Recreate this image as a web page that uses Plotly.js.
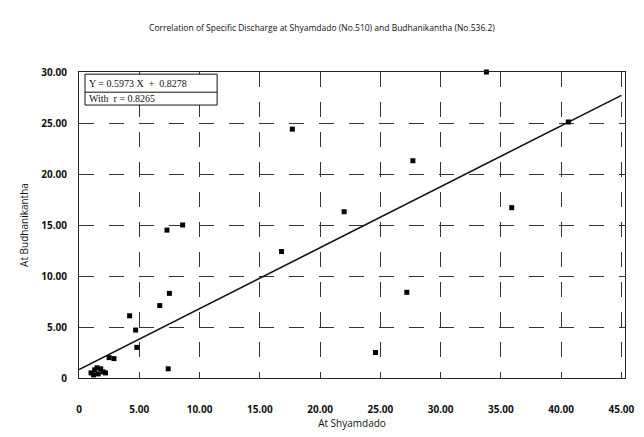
<!DOCTYPE html>
<html>
<head>
<meta charset="utf-8">
<script src="https://cdn.plot.ly/plotly-3.0.1.min.js"></script>
<style>html,body{margin:0;padding:0;background:#fff;}#chart{width:644px;height:437px;}</style>
</head>
<body>
<div id="chart"></div>
<script>
// Observed specific discharge pairs
const shyamdado = [33.8, 40.6, 17.7, 27.7, 22.0, 35.9, 16.8, 27.2, 24.6,
                   7.3, 8.6, 7.5, 6.7, 4.2, 4.7, 4.8, 2.5, 2.9, 7.4,
                   1.0, 1.3, 1.6, 1.8, 2.0, 2.2, 1.2, 1.5];
const budhanikantha = [30.0, 25.1, 24.4, 21.3, 16.3, 16.7, 12.4, 8.4, 2.5,
                       14.5, 15.0, 8.3, 7.1, 6.1, 4.7, 3.0, 2.0, 1.9, 0.9,
                       0.5, 0.8, 0.4, 0.9, 0.6, 0.5, 0.3, 1.0];
// Regression
const slope = 0.5973;
const intercept = 0.8278;
const lineX = [0, 45];
const lineY = lineX.map(v => slope * v + intercept);

const xTickVals = [0, 5, 10, 15, 20, 25, 30, 35, 40, 45];
const xTickText = ["0", "5.00", "10.00", "15.00", "20.00", "25.00", "30.00", "35.00", "40.00", "45.00"];
const yTickVals = [0, 5, 10, 15, 20, 25, 30];
const yTickText = ["0", "5.00", "10.00", "15.00", "20.00", "25.00", "30.00"];

const font = "Open Sans, Lato, sans-serif";

const traces = [
  {x: lineX, y: lineY, mode: "lines", line: {color: "#111", width: 1.6}, hoverinfo: "skip", cliponaxis: false},
  {x: shyamdado, y: budhanikantha, mode: "markers", cliponaxis: false,
   marker: {symbol: "square", size: 5, color: "#000"}}
];

const layout = {
  width: 644, height: 437,
  margin: {l: 79, r: 19, t: 72, b: 59},
  paper_bgcolor: "#fff", plot_bgcolor: "#fff",
  showlegend: false,
  font: {family: font, color: "#111", size: 10},
  title: {text: "Correlation of Specific Discharge at Shyamdado (No.510) and Budhanikantha (No.536.2)",
          font: {family: font, size: 8.5, color: "#111"}, x: 0.5, xanchor: "center", y: 0.935, yanchor: "middle"},
  xaxis: {
    range: [0, 45.3], tickvals: xTickVals, ticktext: xTickText,
    showgrid: true, gridcolor: "#333", gridwidth: 1, griddash: "longdash",
    showline: true, linecolor: "#222", linewidth: 1, mirror: true,
    zeroline: false, ticks: "", ticklabelstandoff: 22,
    tickfont: {family: font, size: 10, color: "#111", weight: "bold"},
    title: {text: "At Shyamdado", font: {family: font, size: 10, color: "#111"}, standoff: 4}
  },
  yaxis: {
    range: [0, 30], tickvals: yTickVals, ticktext: yTickText,
    showgrid: true, gridcolor: "#333", gridwidth: 1, griddash: "longdash",
    showline: true, linecolor: "#222", linewidth: 1, mirror: true,
    zeroline: false, ticks: "", ticklabelstandoff: 9,
    tickfont: {family: font, size: 10, color: "#111", weight: "bold"},
    title: {text: "At Budhanikantha", font: {family: font, size: 10, color: "#111"}, standoff: 10}
  },
  shapes: [
    {type: "rect", xref: "paper", yref: "paper", x0: 0.011, x1: 0.253, y0: 0.892, y1: 0.993,
     line: {color: "#111", width: 1}, fillcolor: "#fff", layer: "above"},
    {type: "line", xref: "paper", yref: "paper", x0: 0.011, x1: 0.253, y0: 0.934, y1: 0.934,
     line: {color: "#111", width: 1}, layer: "above"}
  ],
  annotations: [
    {xref: "paper", yref: "paper", x: 0.015, y: 0.963, xanchor: "left", yanchor: "middle",
     text: "Y = 0.5973 X  +  0.8278", showarrow: false,
     font: {family: "Liberation Serif, DejaVu Serif, serif", size: 10, color: "#111"}},
    {xref: "paper", yref: "paper", x: 0.015, y: 0.913, xanchor: "left", yanchor: "middle",
     text: "With  r = 0.8265", showarrow: false,
     font: {family: "Liberation Serif, DejaVu Serif, serif", size: 10, color: "#111"}}
  ]
};

Plotly.newPlot("chart", traces, layout, {displayModeBar: false, staticPlot: true});
</script>
</body>
</html>
